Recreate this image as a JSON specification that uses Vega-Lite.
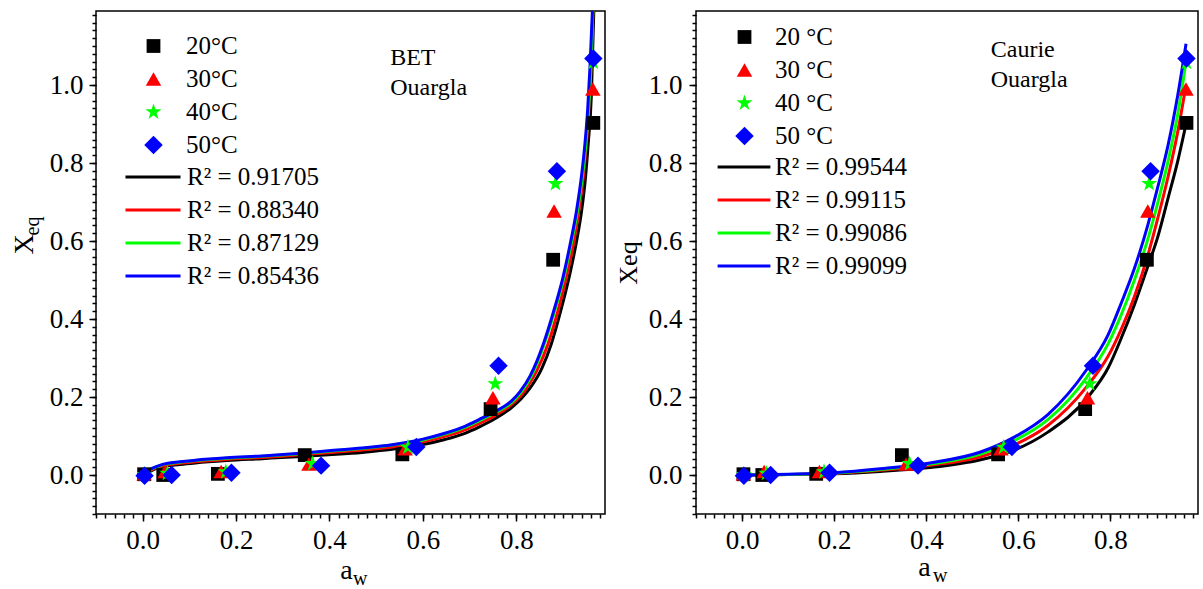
{
  "$schema": "https://vega.github.io/schema/vega-lite/v6.json",
  "background": "white",
  "autosize": {"type": "pad"},
  "padding": {"left": 9, "top": 10, "right": 5, "bottom": 0},
  "datasets": {
    "pts": [
      {"T": 20, "aw": 0.003, "X": 0.002}, {"T": 20, "aw": 0.044, "X": 0.0}, {"T": 20, "aw": 0.161, "X": 0.003}, {"T": 20, "aw": 0.347, "X": 0.051}, {"T": 20, "aw": 0.556, "X": 0.053}, {"T": 20, "aw": 0.745, "X": 0.169}, {"T": 20, "aw": 0.879, "X": 0.552}, {"T": 20, "aw": 0.965, "X": 0.903},
      {"T": 30, "aw": 0.003, "X": 0.003}, {"T": 30, "aw": 0.048, "X": 0.009}, {"T": 30, "aw": 0.168, "X": 0.009}, {"T": 30, "aw": 0.356, "X": 0.028}, {"T": 30, "aw": 0.562, "X": 0.067}, {"T": 30, "aw": 0.75, "X": 0.198}, {"T": 30, "aw": 0.881, "X": 0.677}, {"T": 30, "aw": 0.964, "X": 0.99},
      {"T": 40, "aw": 0.004, "X": 0.001}, {"T": 40, "aw": 0.053, "X": 0.004}, {"T": 40, "aw": 0.178, "X": 0.008}, {"T": 40, "aw": 0.364, "X": 0.029}, {"T": 40, "aw": 0.568, "X": 0.071}, {"T": 40, "aw": 0.755, "X": 0.234}, {"T": 40, "aw": 0.884, "X": 0.747}, {"T": 40, "aw": 0.965, "X": 1.058},
      {"T": 50, "aw": 0.004, "X": -0.002}, {"T": 50, "aw": 0.062, "X": 0.0}, {"T": 50, "aw": 0.19, "X": 0.006}, {"T": 50, "aw": 0.382, "X": 0.024}, {"T": 50, "aw": 0.586, "X": 0.072}, {"T": 50, "aw": 0.762, "X": 0.28}, {"T": 50, "aw": 0.887, "X": 0.779}, {"T": 50, "aw": 0.965, "X": 1.068}
    ],
    "bet": [
      {"fit": "R² = 0.91705", "aw": 0.005, "X": 0.0}, {"fit": "R² = 0.91705", "aw": 0.02, "X": 0.012}, {"fit": "R² = 0.91705", "aw": 0.042, "X": 0.021}, {"fit": "R² = 0.91705", "aw": 0.08, "X": 0.027}, {"fit": "R² = 0.91705", "aw": 0.113, "X": 0.031}, {"fit": "R² = 0.91705", "aw": 0.18, "X": 0.037}, {"fit": "R² = 0.91705", "aw": 0.256, "X": 0.042}, {"fit": "R² = 0.91705", "aw": 0.33, "X": 0.047}, {"fit": "R² = 0.91705", "aw": 0.398, "X": 0.052}, {"fit": "R² = 0.91705", "aw": 0.47, "X": 0.058}, {"fit": "R² = 0.91705", "aw": 0.541, "X": 0.067}, {"fit": "R² = 0.91705", "aw": 0.6, "X": 0.078}, {"fit": "R² = 0.91705", "aw": 0.647, "X": 0.091}, {"fit": "R² = 0.91705", "aw": 0.69, "X": 0.107}, {"fit": "R² = 0.91705", "aw": 0.72, "X": 0.123}, {"fit": "R² = 0.91705", "aw": 0.755, "X": 0.145}, {"fit": "R² = 0.91705", "aw": 0.79, "X": 0.173}, {"fit": "R² = 0.91705", "aw": 0.81, "X": 0.195}, {"fit": "R² = 0.91705", "aw": 0.829, "X": 0.222}, {"fit": "R² = 0.91705", "aw": 0.855, "X": 0.274}, {"fit": "R² = 0.91705", "aw": 0.875, "X": 0.336}, {"fit": "R² = 0.91705", "aw": 0.895, "X": 0.42}, {"fit": "R² = 0.91705", "aw": 0.915, "X": 0.517}, {"fit": "R² = 0.91705", "aw": 0.93, "X": 0.605}, {"fit": "R² = 0.91705", "aw": 0.94, "X": 0.678}, {"fit": "R² = 0.91705", "aw": 0.948, "X": 0.76}, {"fit": "R² = 0.91705", "aw": 0.954, "X": 0.849}, {"fit": "R² = 0.91705", "aw": 0.961, "X": 0.98}, {"fit": "R² = 0.91705", "aw": 0.966, "X": 1.19},
      {"fit": "R² = 0.88340", "aw": 0.003, "X": 0.001}, {"fit": "R² = 0.88340", "aw": 0.02, "X": 0.014}, {"fit": "R² = 0.88340", "aw": 0.042, "X": 0.023}, {"fit": "R² = 0.88340", "aw": 0.08, "X": 0.03}, {"fit": "R² = 0.88340", "aw": 0.113, "X": 0.034}, {"fit": "R² = 0.88340", "aw": 0.18, "X": 0.04}, {"fit": "R² = 0.88340", "aw": 0.256, "X": 0.045}, {"fit": "R² = 0.88340", "aw": 0.33, "X": 0.051}, {"fit": "R² = 0.88340", "aw": 0.398, "X": 0.057}, {"fit": "R² = 0.88340", "aw": 0.47, "X": 0.064}, {"fit": "R² = 0.88340", "aw": 0.541, "X": 0.073}, {"fit": "R² = 0.88340", "aw": 0.6, "X": 0.085}, {"fit": "R² = 0.88340", "aw": 0.647, "X": 0.099}, {"fit": "R² = 0.88340", "aw": 0.69, "X": 0.116}, {"fit": "R² = 0.88340", "aw": 0.72, "X": 0.132}, {"fit": "R² = 0.88340", "aw": 0.755, "X": 0.153}, {"fit": "R² = 0.88340", "aw": 0.79, "X": 0.181}, {"fit": "R² = 0.88340", "aw": 0.818, "X": 0.216}, {"fit": "R² = 0.88340", "aw": 0.843, "X": 0.265}, {"fit": "R² = 0.88340", "aw": 0.868, "X": 0.336}, {"fit": "R² = 0.88340", "aw": 0.889, "X": 0.42}, {"fit": "R² = 0.88340", "aw": 0.907, "X": 0.507}, {"fit": "R² = 0.88340", "aw": 0.922, "X": 0.59}, {"fit": "R² = 0.88340", "aw": 0.934, "X": 0.678}, {"fit": "R² = 0.88340", "aw": 0.944, "X": 0.77}, {"fit": "R² = 0.88340", "aw": 0.95, "X": 0.849}, {"fit": "R² = 0.88340", "aw": 0.955, "X": 0.93}, {"fit": "R² = 0.88340", "aw": 0.959, "X": 1.019}, {"fit": "R² = 0.88340", "aw": 0.962, "X": 1.1}, {"fit": "R² = 0.88340", "aw": 0.964, "X": 1.19},
      {"fit": "R² = 0.87129", "aw": 0.003, "X": 0.002}, {"fit": "R² = 0.87129", "aw": 0.02, "X": 0.016}, {"fit": "R² = 0.87129", "aw": 0.042, "X": 0.026}, {"fit": "R² = 0.87129", "aw": 0.08, "X": 0.033}, {"fit": "R² = 0.87129", "aw": 0.113, "X": 0.037}, {"fit": "R² = 0.87129", "aw": 0.18, "X": 0.043}, {"fit": "R² = 0.87129", "aw": 0.256, "X": 0.048}, {"fit": "R² = 0.87129", "aw": 0.33, "X": 0.054}, {"fit": "R² = 0.87129", "aw": 0.398, "X": 0.061}, {"fit": "R² = 0.87129", "aw": 0.47, "X": 0.068}, {"fit": "R² = 0.87129", "aw": 0.541, "X": 0.078}, {"fit": "R² = 0.87129", "aw": 0.6, "X": 0.09}, {"fit": "R² = 0.87129", "aw": 0.647, "X": 0.105}, {"fit": "R² = 0.87129", "aw": 0.69, "X": 0.122}, {"fit": "R² = 0.87129", "aw": 0.72, "X": 0.139}, {"fit": "R² = 0.87129", "aw": 0.755, "X": 0.16}, {"fit": "R² = 0.87129", "aw": 0.79, "X": 0.186}, {"fit": "R² = 0.87129", "aw": 0.81, "X": 0.212}, {"fit": "R² = 0.87129", "aw": 0.832, "X": 0.253}, {"fit": "R² = 0.87129", "aw": 0.86, "X": 0.336}, {"fit": "R² = 0.87129", "aw": 0.882, "X": 0.42}, {"fit": "R² = 0.87129", "aw": 0.902, "X": 0.507}, {"fit": "R² = 0.87129", "aw": 0.917, "X": 0.59}, {"fit": "R² = 0.87129", "aw": 0.931, "X": 0.678}, {"fit": "R² = 0.87129", "aw": 0.942, "X": 0.77}, {"fit": "R² = 0.87129", "aw": 0.949, "X": 0.849}, {"fit": "R² = 0.87129", "aw": 0.955, "X": 0.94}, {"fit": "R² = 0.87129", "aw": 0.96, "X": 1.05}, {"fit": "R² = 0.87129", "aw": 0.964, "X": 1.19},
      {"fit": "R² = 0.85436", "aw": 0.003, "X": 0.003}, {"fit": "R² = 0.85436", "aw": 0.02, "X": 0.017}, {"fit": "R² = 0.85436", "aw": 0.042, "X": 0.027}, {"fit": "R² = 0.85436", "aw": 0.08, "X": 0.034}, {"fit": "R² = 0.85436", "aw": 0.113, "X": 0.038}, {"fit": "R² = 0.85436", "aw": 0.18, "X": 0.044}, {"fit": "R² = 0.85436", "aw": 0.256, "X": 0.049}, {"fit": "R² = 0.85436", "aw": 0.33, "X": 0.055}, {"fit": "R² = 0.85436", "aw": 0.398, "X": 0.062}, {"fit": "R² = 0.85436", "aw": 0.47, "X": 0.069}, {"fit": "R² = 0.85436", "aw": 0.541, "X": 0.079}, {"fit": "R² = 0.85436", "aw": 0.6, "X": 0.092}, {"fit": "R² = 0.85436", "aw": 0.647, "X": 0.107}, {"fit": "R² = 0.85436", "aw": 0.69, "X": 0.125}, {"fit": "R² = 0.85436", "aw": 0.72, "X": 0.142}, {"fit": "R² = 0.85436", "aw": 0.755, "X": 0.163}, {"fit": "R² = 0.85436", "aw": 0.79, "X": 0.19}, {"fit": "R² = 0.85436", "aw": 0.808, "X": 0.214}, {"fit": "R² = 0.85436", "aw": 0.83, "X": 0.255}, {"fit": "R² = 0.85436", "aw": 0.858, "X": 0.336}, {"fit": "R² = 0.85436", "aw": 0.88, "X": 0.42}, {"fit": "R² = 0.85436", "aw": 0.9, "X": 0.507}, {"fit": "R² = 0.85436", "aw": 0.915, "X": 0.59}, {"fit": "R² = 0.85436", "aw": 0.929, "X": 0.678}, {"fit": "R² = 0.85436", "aw": 0.94, "X": 0.77}, {"fit": "R² = 0.85436", "aw": 0.947, "X": 0.849}, {"fit": "R² = 0.85436", "aw": 0.953, "X": 0.94}, {"fit": "R² = 0.85436", "aw": 0.958, "X": 1.05}, {"fit": "R² = 0.85436", "aw": 0.963, "X": 1.19}
    ],
    "caurie": [
      {"fit": "R² = 0.99544", "aw": 0.0, "X": 0.0}, {"fit": "R² = 0.99544", "aw": 0.1, "X": 0.001}, {"fit": "R² = 0.99544", "aw": 0.2, "X": 0.003}, {"fit": "R² = 0.99544", "aw": 0.3, "X": 0.009}, {"fit": "R² = 0.99544", "aw": 0.408, "X": 0.019}, {"fit": "R² = 0.99544", "aw": 0.518, "X": 0.039}, {"fit": "R² = 0.99544", "aw": 0.591, "X": 0.064}, {"fit": "R² = 0.99544", "aw": 0.664, "X": 0.11}, {"fit": "R² = 0.99544", "aw": 0.751, "X": 0.2}, {"fit": "R² = 0.99544", "aw": 0.795, "X": 0.275}, {"fit": "R² = 0.99544", "aw": 0.823, "X": 0.35}, {"fit": "R² = 0.99544", "aw": 0.852, "X": 0.437}, {"fit": "R² = 0.99544", "aw": 0.881, "X": 0.535}, {"fit": "R² = 0.99544", "aw": 0.903, "X": 0.612}, {"fit": "R² = 0.99544", "aw": 0.925, "X": 0.71}, {"fit": "R² = 0.99544", "aw": 0.946, "X": 0.805}, {"fit": "R² = 0.99544", "aw": 0.964, "X": 0.9},
      {"fit": "R² = 0.99115", "aw": 0.0, "X": 0.0}, {"fit": "R² = 0.99115", "aw": 0.1, "X": 0.001}, {"fit": "R² = 0.99115", "aw": 0.2, "X": 0.004}, {"fit": "R² = 0.99115", "aw": 0.3, "X": 0.012}, {"fit": "R² = 0.99115", "aw": 0.408, "X": 0.025}, {"fit": "R² = 0.99115", "aw": 0.518, "X": 0.047}, {"fit": "R² = 0.99115", "aw": 0.591, "X": 0.077}, {"fit": "R² = 0.99115", "aw": 0.664, "X": 0.127}, {"fit": "R² = 0.99115", "aw": 0.748, "X": 0.226}, {"fit": "R² = 0.99115", "aw": 0.795, "X": 0.305}, {"fit": "R² = 0.99115", "aw": 0.823, "X": 0.373}, {"fit": "R² = 0.99115", "aw": 0.852, "X": 0.458}, {"fit": "R² = 0.99115", "aw": 0.881, "X": 0.563}, {"fit": "R² = 0.99115", "aw": 0.903, "X": 0.66}, {"fit": "R² = 0.99115", "aw": 0.925, "X": 0.765}, {"fit": "R² = 0.99115", "aw": 0.946, "X": 0.88}, {"fit": "R² = 0.99115", "aw": 0.964, "X": 1.0},
      {"fit": "R² = 0.99086", "aw": 0.0, "X": 0.0}, {"fit": "R² = 0.99086", "aw": 0.1, "X": 0.001}, {"fit": "R² = 0.99086", "aw": 0.2, "X": 0.005}, {"fit": "R² = 0.99086", "aw": 0.3, "X": 0.014}, {"fit": "R² = 0.99086", "aw": 0.408, "X": 0.028}, {"fit": "R² = 0.99086", "aw": 0.518, "X": 0.054}, {"fit": "R² = 0.99086", "aw": 0.591, "X": 0.088}, {"fit": "R² = 0.99086", "aw": 0.664, "X": 0.142}, {"fit": "R² = 0.99086", "aw": 0.748, "X": 0.25}, {"fit": "R² = 0.99086", "aw": 0.795, "X": 0.337}, {"fit": "R² = 0.99086", "aw": 0.823, "X": 0.41}, {"fit": "R² = 0.99086", "aw": 0.852, "X": 0.5}, {"fit": "R² = 0.99086", "aw": 0.881, "X": 0.605}, {"fit": "R² = 0.99086", "aw": 0.903, "X": 0.7}, {"fit": "R² = 0.99086", "aw": 0.925, "X": 0.805}, {"fit": "R² = 0.99086", "aw": 0.946, "X": 0.925}, {"fit": "R² = 0.99086", "aw": 0.964, "X": 1.06},
      {"fit": "R² = 0.99099", "aw": 0.0, "X": 0.0}, {"fit": "R² = 0.99099", "aw": 0.1, "X": 0.002}, {"fit": "R² = 0.99099", "aw": 0.2, "X": 0.006}, {"fit": "R² = 0.99099", "aw": 0.3, "X": 0.016}, {"fit": "R² = 0.99099", "aw": 0.408, "X": 0.031}, {"fit": "R² = 0.99099", "aw": 0.518, "X": 0.059}, {"fit": "R² = 0.99099", "aw": 0.591, "X": 0.097}, {"fit": "R² = 0.99099", "aw": 0.664, "X": 0.155}, {"fit": "R² = 0.99099", "aw": 0.748, "X": 0.27}, {"fit": "R² = 0.99099", "aw": 0.795, "X": 0.36}, {"fit": "R² = 0.99099", "aw": 0.823, "X": 0.44}, {"fit": "R² = 0.99099", "aw": 0.852, "X": 0.53}, {"fit": "R² = 0.99099", "aw": 0.881, "X": 0.641}, {"fit": "R² = 0.99099", "aw": 0.903, "X": 0.74}, {"fit": "R² = 0.99099", "aw": 0.925, "X": 0.846}, {"fit": "R² = 0.99099", "aw": 0.946, "X": 0.974}, {"fit": "R² = 0.99099", "aw": 0.964, "X": 1.106}
    ],
    "noteBET": [{"note": "BET\nOuargla"}],
    "noteCaurie": [{"note": "Caurie\nOuargla"}]
  },
  "bounds": "flush",
  "spacing": 91,
  "resolve": {
    "scale": {"x": "independent", "y": "independent", "fill": "independent", "shape": "independent", "size": "independent", "stroke": "independent"},
    "legend": {"fill": "independent", "shape": "independent", "size": "independent", "stroke": "independent"}
  },
  "hconcat": [
    {
      "width": 509,
      "height": 503,
      "resolve": {"axis": {"x": "independent", "y": "independent"}},
      "layer": [
        {
          "data": {"name": "bet"},
          "mark": {"type": "line", "strokeWidth": 3, "interpolate": "monotone", "clip": true},
          "encoding": {
            "x": {"field": "aw", "type": "quantitative", "scale": {"domain": [-0.1, 0.99], "nice": false, "zero": false},
              "axis": {"orient": "bottom", "values": [0, 0.2, 0.4, 0.6, 0.8], "format": ".1f", "tickSize": 7, "labelPadding": 6, "title": "a", "titleFontSize": 28, "titleX": 250, "titleY": 64, "titleAlign": "center", "titleBaseline": "alphabetic"}},
            "y": {"field": "X", "type": "quantitative", "scale": {"domain": [-0.1, 1.19], "nice": false, "zero": false},
              "axis": {"orient": "left", "values": [0, 0.2, 0.4, 0.6, 0.8, 1.0], "format": ".1f", "tickSize": 7, "labelPadding": 6, "title": "X", "titleFontSize": 28, "titleAngle": -90, "titleX": -64, "titleY": 243, "titleAlign": "left", "titleBaseline": "alphabetic"}},
            "stroke": {"field": "fit", "type": "nominal",
              "scale": {"domain": ["R² = 0.91705", "R² = 0.88340", "R² = 0.87129", "R² = 0.85436"], "range": ["#000000", "#ff0000", "#00ff00", "#0000ff"]},
              "legend": {"title": null, "orient": "none", "legendX": 44.5, "legendY": 153.5, "labelOffset": 21.5, "rowPadding": 7, "symbolType": "M-3.44,0L3.44,0", "symbolSize": 256, "symbolStrokeWidth": 3}}
          }
        },
        {
          "data": {"name": "pts"},
          "mark": {"type": "point", "filled": true, "opacity": 1, "strokeWidth": 0},
          "encoding": {
            "x": {"field": "aw", "type": "quantitative",
              "axis": {"orient": "bottom", "values": [-0.1,-0.08,-0.06,-0.04,-0.02,0,0.02,0.04,0.06,0.08,0.1,0.12,0.14,0.16,0.18,0.2,0.22,0.24,0.26,0.28,0.3,0.32,0.34,0.36,0.38,0.4,0.42,0.44,0.46,0.48,0.5,0.52,0.54,0.56,0.58,0.6,0.62,0.64,0.66,0.68,0.7,0.72,0.74,0.76,0.78,0.8,0.82,0.84,0.86,0.88,0.9,0.92,0.94,0.96,0.98], "labels": false, "tickSize": 4, "title": "w", "titleFontSize": 20, "titleX": 256.5, "titleY": 70, "titleAlign": "left", "titleBaseline": "alphabetic"}},
            "y": {"field": "X", "type": "quantitative",
              "axis": {"orient": "left", "values": [-0.1,-0.08,-0.06,-0.04,-0.02,0,0.02,0.04,0.06,0.08,0.1,0.12,0.14,0.16,0.18,0.2,0.22,0.24,0.26,0.28,0.3,0.32,0.34,0.36,0.38,0.4,0.42,0.44,0.46,0.48,0.5,0.52,0.54,0.56,0.58,0.6,0.62,0.64,0.66,0.68,0.7,0.72,0.74,0.76,0.78,0.8,0.82,0.84,0.86,0.88,0.9,0.92,0.94,0.96,0.98,1,1.02,1.04,1.06,1.08,1.1,1.12,1.14,1.16,1.18], "labels": false, "tickSize": 4, "title": "eq", "titleFontSize": 20, "titleAngle": -90, "titleX": -58, "titleY": 224, "titleAlign": "left", "titleBaseline": "alphabetic"}},
            "fill": {"field": "T", "type": "nominal", "scale": {"domain": [20, 30, 40, 50], "range": ["#000000", "#ff0000", "#00ff00", "#0000ff"]},
              "legend": {"title": null, "orient": "none", "legendX": 45, "legendY": 22.5, "labelOffset": 20, "labelExpr": "datum.label + '°C'", "symbolStrokeWidth": 0}},
            "shape": {"field": "T", "type": "nominal", "scale": {"domain": [20, 30, 40, 50], "range": ["square", "triangle-up", "M0,-1L0.225,-0.309L0.951,-0.309L0.363,0.118L0.588,0.809L0,0.382L-0.588,0.809L-0.363,0.118L-0.951,-0.309L-0.225,-0.309Z", "diamond"]},
              "legend": {"title": null, "orient": "none", "legendX": 45, "legendY": 22.5, "labelOffset": 20, "labelExpr": "datum.label + '°C'", "symbolStrokeWidth": 0}},
            "size": {"field": "T", "type": "nominal", "scale": {"domain": [20, 30, 40, 50], "range": [190, 340, 320, 340]},
              "legend": {"title": null, "orient": "none", "legendX": 45, "legendY": 22.5, "labelOffset": 20, "labelExpr": "datum.label + '°C'", "symbolStrokeWidth": 0}}
          }
        },
        {
          "data": {"name": "noteBET"},
          "mark": {"type": "text", "align": "left", "baseline": "top", "fontSize": 24, "lineBreak": "\n", "lineHeight": 30, "color": "black"},
          "encoding": {
            "text": {"field": "note"},
            "x": {"datum": 0.53, "type": "quantitative", "axis": null},
            "y": {"datum": 1.099, "type": "quantitative", "axis": null}
          }
        }
      ]
    },
    {
      "width": 502,
      "height": 503,
      "resolve": {"axis": {"x": "independent", "y": "independent"}},
      "layer": [
        {
          "data": {"name": "caurie"},
          "mark": {"type": "line", "strokeWidth": 3, "interpolate": "monotone", "clip": true},
          "encoding": {
            "x": {"field": "aw", "type": "quantitative", "scale": {"domain": [-0.1, 0.99], "nice": false, "zero": false},
              "axis": {"orient": "bottom", "values": [0, 0.2, 0.4, 0.6, 0.8], "format": ".1f", "tickSize": 7, "labelPadding": 6, "title": "a", "titleFontSize": 28, "titleX": 228, "titleY": 61, "titleAlign": "center", "titleBaseline": "alphabetic"}},
            "y": {"field": "X", "type": "quantitative", "scale": {"domain": [-0.1, 1.19], "nice": false, "zero": false},
              "axis": {"orient": "left", "values": [0, 0.2, 0.4, 0.6, 0.8, 1.0], "format": ".1f", "tickSize": 7, "labelPadding": 7, "title": "Xeq", "titleFontSize": 26, "titleAngle": -90, "titleX": -60, "titleY": 251.5, "titleAlign": "center", "titleBaseline": "alphabetic"}},
            "stroke": {"field": "fit", "type": "nominal",
              "scale": {"domain": ["R² = 0.99544", "R² = 0.99115", "R² = 0.99086", "R² = 0.99099"], "range": ["#000000", "#ff0000", "#00ff00", "#0000ff"]},
              "legend": {"title": null, "orient": "none", "legendX": 35.5, "legendY": 143.5, "labelOffset": 18.5, "rowPadding": 7, "symbolType": "M-3.3,0L3.3,0", "symbolSize": 256, "symbolStrokeWidth": 3}}
          }
        },
        {
          "data": {"name": "pts"},
          "mark": {"type": "point", "filled": true, "opacity": 1, "strokeWidth": 0},
          "encoding": {
            "x": {"field": "aw", "type": "quantitative",
              "axis": {"orient": "bottom", "values": [-0.1,-0.08,-0.06,-0.04,-0.02,0,0.02,0.04,0.06,0.08,0.1,0.12,0.14,0.16,0.18,0.2,0.22,0.24,0.26,0.28,0.3,0.32,0.34,0.36,0.38,0.4,0.42,0.44,0.46,0.48,0.5,0.52,0.54,0.56,0.58,0.6,0.62,0.64,0.66,0.68,0.7,0.72,0.74,0.76,0.78,0.8,0.82,0.84,0.86,0.88,0.9,0.92,0.94,0.96,0.98], "labels": false, "tickSize": 4, "title": "w", "titleFontSize": 20, "titleX": 236.5, "titleY": 67, "titleAlign": "left", "titleBaseline": "alphabetic"}},
            "y": {"field": "X", "type": "quantitative",
              "axis": {"orient": "left", "values": [-0.1,-0.08,-0.06,-0.04,-0.02,0,0.02,0.04,0.06,0.08,0.1,0.12,0.14,0.16,0.18,0.2,0.22,0.24,0.26,0.28,0.3,0.32,0.34,0.36,0.38,0.4,0.42,0.44,0.46,0.48,0.5,0.52,0.54,0.56,0.58,0.6,0.62,0.64,0.66,0.68,0.7,0.72,0.74,0.76,0.78,0.8,0.82,0.84,0.86,0.88,0.9,0.92,0.94,0.96,0.98,1,1.02,1.04,1.06,1.08,1.1,1.12,1.14,1.16,1.18], "labels": false, "tickSize": 4, "title": null}},
            "fill": {"field": "T", "type": "nominal", "scale": {"domain": [20, 30, 40, 50], "range": ["#000000", "#ff0000", "#00ff00", "#0000ff"]},
              "legend": {"title": null, "orient": "none", "legendX": 36, "legendY": 13.5, "labelOffset": 18, "labelExpr": "datum.label + ' °C'", "symbolStrokeWidth": 0}},
            "shape": {"field": "T", "type": "nominal", "scale": {"domain": [20, 30, 40, 50], "range": ["square", "triangle-up", "M0,-1L0.225,-0.309L0.951,-0.309L0.363,0.118L0.588,0.809L0,0.382L-0.588,0.809L-0.363,0.118L-0.951,-0.309L-0.225,-0.309Z", "diamond"]},
              "legend": {"title": null, "orient": "none", "legendX": 36, "legendY": 13.5, "labelOffset": 18, "labelExpr": "datum.label + ' °C'", "symbolStrokeWidth": 0}},
            "size": {"field": "T", "type": "nominal", "scale": {"domain": [20, 30, 40, 50], "range": [190, 340, 320, 340]},
              "legend": {"title": null, "orient": "none", "legendX": 36, "legendY": 13.5, "labelOffset": 18, "labelExpr": "datum.label + ' °C'", "symbolStrokeWidth": 0}}
          }
        },
        {
          "data": {"name": "noteCaurie"},
          "mark": {"type": "text", "align": "left", "baseline": "top", "fontSize": 24, "lineBreak": "\n", "lineHeight": 30, "color": "black"},
          "encoding": {
            "text": {"field": "note"},
            "x": {"datum": 0.54, "type": "quantitative", "axis": null},
            "y": {"datum": 1.12, "type": "quantitative", "axis": null}
          }
        }
      ]
    }
  ],
  "config": {
    "font": "Liberation Serif, Times New Roman, serif",
    "text": {"font": "Liberation Serif, Times New Roman, serif"},
    "view": {"stroke": "black", "strokeWidth": 1.5},
    "axis": {"grid": false, "domain": false, "tickColor": "black", "tickWidth": 1.5, "labelColor": "black", "labelFont": "Liberation Serif, Times New Roman, serif", "labelFontSize": 27, "titleFont": "Liberation Serif, Times New Roman, serif", "titleFontWeight": "normal", "titleColor": "black", "labelFlush": false, "labelOverlap": false},
    "legend": {"labelFont": "Liberation Serif, Times New Roman, serif", "labelFontSize": 25, "labelColor": "black", "padding": 0, "rowPadding": 7, "symbolOpacity": 1},
    "point": {"opacity": 1}
  }
}
